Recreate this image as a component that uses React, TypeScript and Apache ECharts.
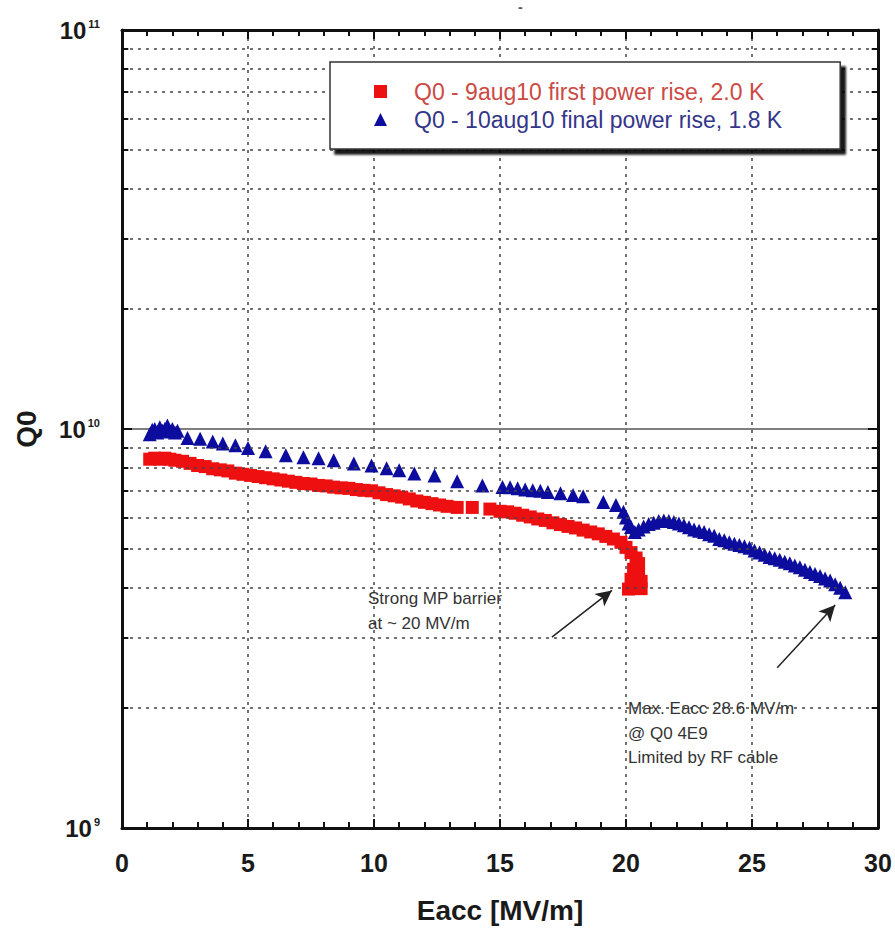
import React, { useEffect, useRef } from 'react';
import * as echarts from 'echarts';

const redName = 'Q0 - 9aug10 first power rise, 2.0 K';
const blueName = 'Q0 - 10aug10 final power rise, 1.8 K';

const redEacc = [1.1, 1.3, 1.5, 1.7, 1.9, 2.1, 2.4, 2.7, 3.0, 3.3, 3.6, 3.9, 4.2, 4.5, 4.8, 5.1, 5.4, 5.7, 6.0, 6.3, 6.6, 6.9, 7.2, 7.5, 7.8, 8.1, 8.4, 8.7, 9.0, 9.3, 9.6, 9.9, 10.2, 10.5, 10.8, 11.1, 11.4, 11.7, 12.0, 12.3, 12.6, 12.9, 13.3, 13.9, 14.6, 15.0, 15.3, 15.6, 15.9, 16.2, 16.5, 16.8, 17.1, 17.4, 17.7, 18.0, 18.3, 18.6, 18.9, 19.2, 19.5, 19.8, 20.0, 20.2, 20.4, 20.5, 20.3, 20.5, 20.2, 20.4, 20.6, 20.1, 20.6];
const redQ0 = [8.4e9, 8.45e9, 8.4e9, 8.45e9, 8.4e9, 8.35e9, 8.3e9, 8.2e9, 8.1e9, 8.05e9, 7.95e9, 7.9e9, 7.85e9, 7.75e9, 7.7e9, 7.65e9, 7.6e9, 7.55e9, 7.5e9, 7.45e9, 7.4e9, 7.35e9, 7.3e9, 7.28e9, 7.22e9, 7.2e9, 7.15e9, 7.12e9, 7.1e9, 7.05e9, 7.02e9, 7.0e9, 6.92e9, 6.85e9, 6.8e9, 6.75e9, 6.68e9, 6.6e9, 6.55e9, 6.5e9, 6.45e9, 6.4e9, 6.36e9, 6.36e9, 6.3e9, 6.22e9, 6.2e9, 6.15e9, 6.08e9, 6.02e9, 5.95e9, 5.9e9, 5.82e9, 5.76e9, 5.7e9, 5.65e9, 5.58e9, 5.52e9, 5.46e9, 5.38e9, 5.3e9, 5.2e9, 5.05e9, 4.9e9, 4.75e9, 4.6e9, 4.45e9, 4.3e9, 4.2e9, 4.08e9, 3.98e9, 3.97e9, 4.15e9];

const blueEacc = [1.1, 1.2, 1.3, 1.4, 1.5, 1.6, 1.7, 1.8, 1.9, 2.0, 2.1, 2.2, 2.6, 3.1, 3.6, 4.0, 4.5, 5.0, 5.7, 6.5, 7.2, 7.8, 8.4, 9.2, 9.9, 10.5, 11.0, 11.6, 12.4, 13.3, 14.3, 15.1, 15.4, 15.7, 16.0, 16.3, 16.6, 16.9, 17.4, 17.9, 18.3, 19.1, 19.6, 19.9, 20.0, 20.1, 20.2, 20.35, 20.5, 20.7, 20.9, 21.1, 21.3, 21.5, 21.7, 21.9, 22.1, 22.3, 22.5, 22.7, 22.9, 23.1, 23.3, 23.5, 23.7, 23.9, 24.1, 24.3, 24.5, 24.7, 24.9, 25.1, 25.3, 25.5, 25.7, 25.9, 26.1, 26.3, 26.5, 26.7, 26.9, 27.1, 27.3, 27.5, 27.7, 27.9, 28.1, 28.3, 28.5, 28.7];
const blueQ0 = [9.7e9, 9.95e9, 1.0e10, 9.8e9, 1.01e10, 9.9e9, 1.0e10, 1.02e10, 9.85e9, 1.0e10, 9.8e9, 9.9e9, 9.5e9, 9.45e9, 9.3e9, 9.2e9, 9.1e9, 8.96e9, 8.8e9, 8.6e9, 8.5e9, 8.45e9, 8.35e9, 8.2e9, 8.1e9, 7.97e9, 7.88e9, 7.74e9, 7.65e9, 7.4e9, 7.22e9, 7.16e9, 7.14e9, 7.1e9, 7.05e9, 7.02e9, 7.0e9, 6.95e9, 6.9e9, 6.83e9, 6.78e9, 6.56e9, 6.45e9, 6.2e9, 6.0e9, 5.8e9, 5.68e9, 5.52e9, 5.6e9, 5.7e9, 5.78e9, 5.82e9, 5.88e9, 5.9e9, 5.88e9, 5.85e9, 5.8e9, 5.74e9, 5.67e9, 5.6e9, 5.56e9, 5.52e9, 5.45e9, 5.4e9, 5.3e9, 5.26e9, 5.2e9, 5.16e9, 5.12e9, 5.08e9, 5.04e9, 4.96e9, 4.9e9, 4.84e9, 4.78e9, 4.74e9, 4.7e9, 4.65e9, 4.61e9, 4.55e9, 4.5e9, 4.44e9, 4.38e9, 4.33e9, 4.28e9, 4.22e9, 4.17e9, 4.08e9, 4.0e9, 3.9e9];

const xMin = 0;
const xMax = 30;
const xInterval = 5;
const yMin = 1e9;
const yMax = 1e11;
const yDecadeExponent: Record<string, string> = { '1000000000': '9', '10000000000': '10', '100000000000': '11' };
const minorGridQ = [2e9, 3e9, 4e9, 5e9, 6e9, 7e9, 8e9, 9e9, 2e10, 3e10, 4e10, 5e10, 6e10, 7e10, 8e10, 9e10];
const arrowBarrier = [[17.06, 3.01e9], [19.44, 3.94e9]];
const arrowMaxEacc = [[26.0, 2.52e9], [28.3, 3.62e9]];
const noteBarrier = ['Strong MP barrier', 'at ~ 20 MV/m'];
const noteMax = ['Max. Eacc 28.6 MV/m', '@ Q0 4E9', 'Limited by RF cable'];

const FONT = '"Liberation Sans", Arial, sans-serif';

export default function App() {
  const ref = useRef<HTMLDivElement>(null);
  useEffect(() => {
    if (!ref.current) return;
    const chart = echarts.init(ref.current, null, { renderer: 'svg' });
    const redData = redEacc.map((x, i) => [x, redQ0[i]]);
    const blueData = blueEacc.map((x, i) => [x, blueQ0[i]]);
    const gridLines = minorGridQ.map((v) => ({ yAxis: v }));
    const tickQ = [...minorGridQ, 1e10];
    const leftTicks = tickQ.map((v) => [{ coord: [xMin, v] }, { coord: [xMin + 0.25, v] }]);
    const rightTicks = tickQ.map((v) => [{ coord: [xMax - 0.25, v] }, { coord: [xMax, v] }]);
    const axisLineStyle = { color: '#111', width: 3 };
    const xAxisCommon = {
      type: 'value',
      min: xMin,
      max: xMax,
      interval: xInterval,
      axisLine: { show: true, onZero: false, lineStyle: axisLineStyle },
      axisTick: { show: true, inside: true, length: 9, lineStyle: { color: '#111', width: 2 } },
      minorTick: { show: true, splitNumber: 5, length: 6, lineStyle: { color: '#111', width: 2 } },
    };
    const textBlock = (lines: string[], left: number, top: number) =>
      lines.map((t, i) => ({
        type: 'text',
        left,
        top: top + i * 24.5,
        z: 30,
        style: { text: t, fill: '#333', font: `17px ${FONT}` },
      }));
    chart.setOption({
      animation: false,
      backgroundColor: '#fff',
      grid: { left: 122, right: 17, top: 30, bottom: 109, containLabel: false },
      legend: {
        orient: 'vertical',
        left: 330,
        top: 62,
        z: 50,
        data: [
          { name: redName, icon: 'rect', textStyle: { color: '#cc4a45' } },
          { name: blueName, icon: 'triangle', textStyle: { color: '#34368a' } },
        ],
        itemWidth: 13,
        itemHeight: 13,
        itemGap: 5,
        padding: [18, 58, 18, 44],
        backgroundColor: '#fff',
        borderColor: '#333',
        borderWidth: 1.5,
        shadowColor: 'rgba(0,0,0,0.9)',
        shadowOffsetX: 5,
        shadowOffsetY: 5,
        shadowBlur: 2,
        textStyle: { fontSize: 23, fontFamily: FONT, lineHeight: 23, padding: [0, 0, 0, 22] },
      },
      xAxis: [
        {
          ...xAxisCommon,
          position: 'bottom',
          name: 'Eacc [MV/m]',
          nameLocation: 'middle',
          nameGap: 68,
          nameTextStyle: { fontSize: 28, fontWeight: 'bold', fontFamily: FONT, color: '#1a1a1a' },
          axisLabel: { show: true, margin: 22, fontSize: 25, fontWeight: 'bold', fontFamily: FONT, color: '#1a1a1a' },
          splitLine: { show: true, lineStyle: { color: '#444', width: 1.5, type: [3, 5] } },
        },
        {
          ...xAxisCommon,
          position: 'top',
          axisLabel: { show: false },
          splitLine: { show: false },
        },
      ],
      yAxis: [
        {
          type: 'log',
          logBase: 10,
          min: yMin,
          max: yMax,
          position: 'left',
          name: 'Q0',
          nameLocation: 'middle',
          nameRotate: 90,
          nameGap: 82,
          nameTextStyle: { fontSize: 28, fontWeight: 'bold', fontFamily: FONT, color: '#1a1a1a' },
          axisLine: { show: true, onZero: false, lineStyle: axisLineStyle },
          axisTick: { show: true, inside: true, length: 10, lineStyle: { color: '#111', width: 2 } },
          axisLabel: {
            show: true,
            margin: 22,
            formatter: (v: number) => `{b|10}{s|${yDecadeExponent[String(Math.round(v))] ?? ''}}`,
            rich: {
              b: { fontSize: 24, fontWeight: 'bold', fontFamily: FONT, color: '#1a1a1a' },
              s: { fontSize: 11, fontWeight: 'bold', fontFamily: FONT, color: '#1a1a1a', verticalAlign: 'top', padding: [0, 0, 0, 2] },
            },
          },
          splitLine: { show: true, lineStyle: { color: '#555', width: 1.5 } },
        },
        {
          type: 'log',
          logBase: 10,
          min: yMin,
          max: yMax,
          position: 'right',
          axisLine: { show: true, onZero: false, lineStyle: axisLineStyle },
          axisTick: { show: true, inside: true, length: 10, lineStyle: { color: '#111', width: 2 } },
          axisLabel: { show: false },
          splitLine: { show: false },
        },
      ],
      series: [
        {
          type: 'line',
          name: 'grid',
          data: [],
          silent: true,
          z: 0,
          markLine: {
            silent: true,
            symbol: ['none', 'none'],
            label: { show: false },
            lineStyle: { color: '#444', width: 1.5, type: [3, 5] },
            data: gridLines,
          },
        },
        {
          type: 'line',
          name: 'ticks',
          data: [],
          silent: true,
          z: 1,
          markLine: {
            silent: true,
            symbol: ['none', 'none'],
            label: { show: false },
            lineStyle: { color: '#111', width: 2, type: 'solid' },
            data: [...leftTicks, ...rightTicks],
          },
        },
        {
          type: 'scatter',
          name: redName,
          data: redData,
          symbol: 'rect',
          symbolSize: 13,
          z: 3,
          itemStyle: { color: '#ee1010', opacity: 1 },
        },
        {
          type: 'scatter',
          name: blueName,
          data: blueData,
          symbol: 'triangle',
          symbolSize: 14,
          z: 4,
          itemStyle: { color: '#0c0c9e', opacity: 1 },
        },
        {
          type: 'line',
          name: 'arrows',
          data: [],
          silent: true,
          z: 5,
          markLine: {
            silent: true,
            symbol: ['none', 'arrow'],
            symbolSize: [12, 16],
            label: { show: false },
            lineStyle: { color: '#222', width: 1.5, type: 'solid' },
            data: [
              [{ coord: arrowBarrier[0] }, { coord: arrowBarrier[1] }],
              [{ coord: arrowMaxEacc[0] }, { coord: arrowMaxEacc[1] }],
            ],
          },
        },
      ],
      graphic: [
        ...textBlock(noteBarrier, 368, 590),
        ...textBlock(noteMax, 628, 700),
        { type: 'text', left: 518, top: 0, style: { text: '-', fill: '#555', font: `bold 14px ${FONT}` } },
      ],
    });
    return () => chart.dispose();
  }, []);
  return <div ref={ref} style={{ position: 'fixed', left: 0, top: 0, width: 895, height: 937, background: '#fff' }} />;
}
